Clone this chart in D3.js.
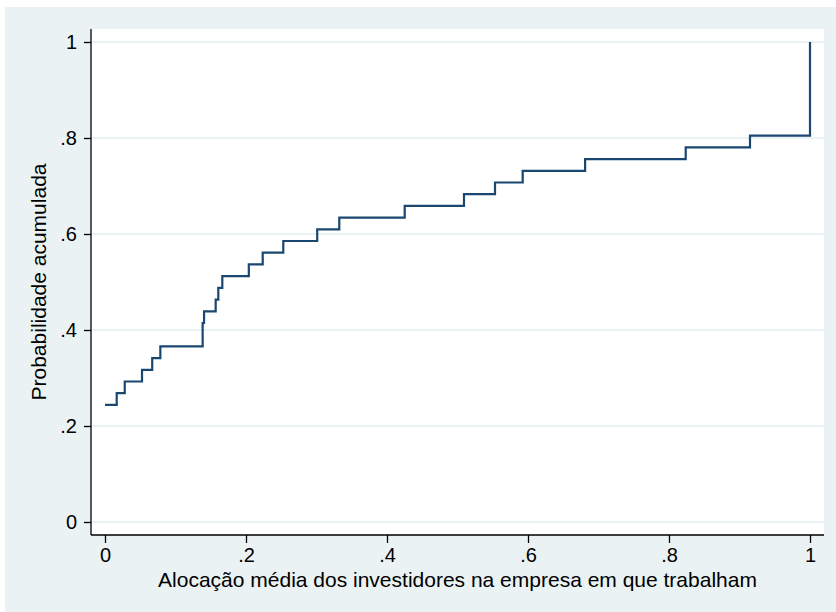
<!DOCTYPE html>
<html>
<head>
<meta charset="utf-8">
<script src="https://cdn.jsdelivr.net/npm/d3@7"></script>
<style>
  body { margin: 0; background: #ffffff; }
  svg { display: block; font-family: "Liberation Sans", Arial, sans-serif; }
</style>
</head>
<body>
<span></span>
<script>
// cumulative distribution (step line) of average allocation in own company

const allocation = [0, 0.0166, 0.028, 0.0525, 0.067, 0.0785, 0.1385, 0.1405, 0.157, 0.1607,
  0.1664, 0.204, 0.2237, 0.2529, 0.301, 0.3323, 0.4251, 0.5092, 0.5532, 0.5925,
  0.681, 0.8237, 0.9149, 1];
const cumProb = [0.2439, 0.2683, 0.2927, 0.3171, 0.3415, 0.3659, 0.4146, 0.4390, 0.4634, 0.4878,
  0.5122, 0.5366, 0.5610, 0.5854, 0.6098, 0.6341, 0.6585, 0.6829, 0.7073, 0.7317,
  0.7561, 0.7805, 0.8049, 1];
const xTicks = [0, 0.2, 0.4, 0.6, 0.8, 1];
const yTicks = [0, 0.2, 0.4, 0.6, 0.8, 1];
const xTitle = "Alocação média dos investidores na empresa em que trabalham";
const yTitle = "Probabilidade acumulada";

var width = 836;
var height = 612;
// plot region (white box)
var plot = {left: 91, right: 824, top: 29, bottom: 535};

const data = allocation.map((x, i) => ({x: x, y: cumProb[i]}));

const svg = d3.select("span")
  .append("svg")
  .attr("width", width)
  .attr("height", height);

// outer graph background
svg.append("rect")
  .attr("x", 5).attr("y", 7)
  .attr("width", width - 5).attr("height", height - 7)
  .attr("fill", "#eaf2f3");

svg.append("rect")
  .attr("x", plot.left).attr("y", plot.top)
  .attr("width", plot.right - plot.left).attr("height", plot.bottom - plot.top)
  .attr("fill", "#ffffff");

const xScale = d3.scaleLinear().domain([0, 1]).range([105, 810]);
const yScale = d3.scaleLinear().domain([0, 1]).range([522, 42]);

function fmt(d) {
  if (d === 0) return "0";
  if (d === 1) return "1";
  return d3.format(".1f")(d).replace(/^0/, "");
}

// grid lines
svg.append("g")
  .selectAll("line")
  .data(yTicks)
  .join("line")
  .attr("x1", plot.left)
  .attr("x2", plot.right)
  .attr("y1", d => yScale(d))
  .attr("y2", d => yScale(d))
  .attr("stroke", "#eaf2f3")
  .attr("stroke-width", 2);

// step line
const line = d3.line()
  .x(d => xScale(d.x))
  .y(d => yScale(d.y))
  .curve(d3.curveStepAfter);

svg.append("path")
  .datum(data)
  .attr("d", line)
  .attr("fill", "none")
  .attr("stroke", "#1a476f")
  .attr("stroke-width", 2.2);

function xAxis(g) {
  g.call(d3.axisBottom(xScale)
    .tickValues(xTicks)
    .tickFormat(fmt)
    .tickSize(8)
    .tickPadding(5)
    .tickSizeOuter(0));
}
function yAxis(g) {
  g.call(d3.axisLeft(yScale)
    .tickValues(yTicks)
    .tickFormat(fmt)
    .tickSize(7)
    .tickPadding(7)
    .tickSizeOuter(0));
}

const gx = svg.append("g")
  .attr("transform", `translate(0, ${plot.bottom})`)
  .call(xAxis);
gx.select(".domain").attr("d", `M${plot.left},0H${plot.right}`);

const gy = svg.append("g")
  .attr("transform", `translate(${plot.left}, 0)`)
  .call(yAxis);
gy.select(".domain").attr("d", `M0,${plot.top}V${plot.bottom}`);

svg.selectAll(".domain, .tick line")
  .attr("stroke", "#000000")
  .attr("stroke-width", 1.3);
svg.selectAll(".tick text")
  .attr("font-family", "'Liberation Sans', Arial, sans-serif")
  .attr("font-size", 20)
  .attr("fill", "#000000");

// axis titles
svg.append("text")
  .attr("x", (plot.left + plot.right) / 2)
  .attr("y", 587)
  .attr("text-anchor", "middle")
  .attr("font-size", 21)
  .attr("fill", "#000000")
  .text(xTitle);

svg.append("text")
  .attr("transform", `translate(46, ${(plot.top + plot.bottom) / 2}) rotate(-90)`)
  .attr("text-anchor", "middle")
  .attr("font-size", 21)
  .attr("fill", "#000000")
  .text(yTitle);
</script>
</body>
</html>
